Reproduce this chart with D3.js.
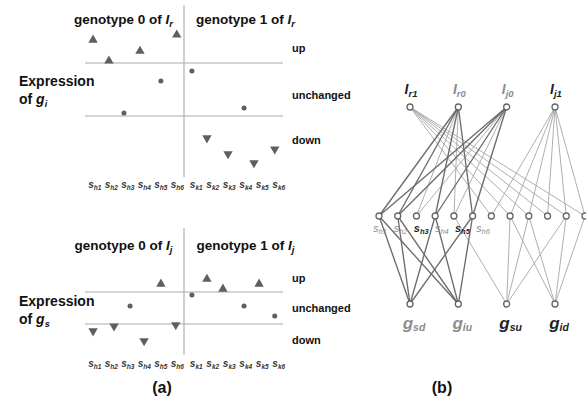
<!DOCTYPE html>
<html>
<head>
<meta charset="utf-8">
<script src="https://cdn.jsdelivr.net/npm/d3@7"></script>
<style>
  html, body { margin: 0; padding: 0; background: #fff; }
  svg { display: block; }
</style>
</head>
<body>
<script>
// ---- Panel (a): expression of a gene across samples, split by genotype ----
const samplesH = ["h1", "h2", "h3", "h4", "h5", "h6"];
const samplesK = ["k1", "k2", "k3", "k4", "k5", "k6"];
const levelLabels = ["up", "unchanged", "down"];

// g_i expression (threshold lines at +1 / -1) and sample positions along the axis
const giValues = [1.87, 1.08, -0.89, 1.45, 0.32, 2.06, 0.70, -1.83, -2.43, -0.70, -2.77, -2.25];
const giPos    = [0.99, 1.95, 2.86, 3.83, 5.10, 6.06, 6.98, 7.89, 9.17, 10.14, 10.74, 12.0];
// g_s expression
const gsValues = [-1.44, -1.13, 0.13, -2.06, 1.50, -1.06, 0.81, 1.81, 1.19, 0.13, 1.50, -0.50];
const gsPos    = [0.99, 2.26, 3.23, 4.08, 5.10, 6.00, 6.98, 7.89, 8.86, 10.14, 11.05, 12.0];

// ---- Panel (b): locus -> sample -> gene network ----
const lociNodes = [["I", "r1"], ["I", "r0"], ["I", "j0"], ["I", "j1"]];
const sampleNodes = samplesH.concat(samplesK);
const geneNodes = [["g", "sd"], ["g", "iu"], ["g", "su"], ["g", "id"]];
// locus genotype -> samples carrying it (indices into sampleNodes)
const lociLinks = [
  [6, 7, 8, 9, 10, 11],   // I_r1
  [0, 1, 2, 3, 4, 5],     // I_r0
  [0, 1, 2, 3, 4, 5],     // I_j0
  [6, 7, 8, 9, 10, 11]    // I_j1
];
// gene state -> samples showing it
const geneLinks = [
  [0, 1, 3, 5],   // g_s down
  [0, 1, 3, 5],   // g_i up
  [4, 7, 8, 10],  // g_s up
  [7, 8, 10, 11]  // g_i down
];
const moduleLoci = [1, 2];          // highlighted loci
const moduleSamples = [0, 1, 3, 5]; // highlighted samples
const moduleGenes = [0, 1];         // highlighted genes

const W = 586, H = 402;
const svg = d3.select("body").append("svg")
  .attr("width", W).attr("height", H)
  .style("font-family", "'Liberation Sans', Arial, Helvetica, sans-serif");
svg.append("rect").attr("width", W).attr("height", H).attr("fill", "#fff");

const lineGrey = "#a9a9a9";
const markGrey = "#5f5f5f";
const textDark = "#111";

const x = d3.scaleLinear().domain([0.5, 12.5]).range([85, 283]);

function drawPanel(cfg) {
  const g = svg.append("g");
  const y = d3.scaleLinear().domain([-1, 1]).range(cfg.yRange);

  // threshold lines and genotype divider
  g.selectAll("line.th").data([1, -1]).join("line")
    .attr("x1", x(0.5)).attr("x2", x(12.5))
    .attr("y1", d => y(d)).attr("y2", d => y(d))
    .attr("stroke", lineGrey).attr("stroke-width", 1.1);
  g.append("line")
    .attr("x1", x(6.5)).attr("x2", x(6.5))
    .attr("y1", cfg.vLine[0]).attr("y2", cfg.vLine[1])
    .attr("stroke", lineGrey).attr("stroke-width", 1.1);

  // genotype titles
  [0, 1].forEach(k => {
    const t = g.append("text")
      .attr("x", k === 0 ? x(3.5) - 11 : x(9.5) + 12)
      .attr("y", cfg.titleY)
      .attr("text-anchor", "middle")
      .attr("font-size", 13.5).attr("font-weight", "bold").attr("fill", textDark);
    t.append("tspan").text("genotype " + k + " of ");
    t.append("tspan").attr("font-style", "italic").text("I");
    t.append("tspan").attr("font-style", "italic").attr("font-size", 9.5).attr("dy", 3).text(cfg.locus);
  });

  // level labels
  g.selectAll("text.lvl").data(levelLabels).join("text")
    .attr("x", 292).attr("y", (d, i) => cfg.levelY[i])
    .attr("font-size", 11).attr("font-weight", "bold").attr("fill", textDark)
    .text(d => d);

  // "Expression of g"
  g.append("text").attr("x", 19).attr("y", cfg.exprY[0])
    .attr("font-size", 14).attr("font-weight", "bold").attr("fill", textDark)
    .text("Expression");
  const of = g.append("text").attr("x", 19).attr("y", cfg.exprY[1])
    .attr("font-size", 14).attr("font-weight", "bold").attr("fill", textDark);
  of.append("tspan").text("of ");
  of.append("tspan").attr("font-style", "italic").text("g");
  of.append("tspan").attr("font-style", "italic").attr("font-size", 9).attr("dy", 3).text(cfg.gene);

  // sample labels
  const labs = samplesH.map((s, i) => ({ s, xx: x(i + 1) + 1.5 }))
    .concat(samplesK.map((s, i) => ({ s, xx: x(i + 7) + 4 })));
  labs.forEach(l => {
    const t = g.append("text").attr("x", l.xx).attr("y", cfg.sampleY)
      .attr("text-anchor", "middle").attr("font-style", "italic")
      .attr("font-weight", "bold").attr("fill", "#333").attr("font-size", 10);
    t.append("tspan").text("s");
    t.append("tspan").attr("font-size", 6.5).attr("dy", 2).text(l.s);
  });

  // expression markers
  const tri = d3.symbol().type(d3.symbolTriangle).size(38);
  const dot = d3.symbol().type(d3.symbolCircle).size(20);
  g.selectAll("path.mk").data(cfg.values).join("path")
    .attr("d", d => (Math.abs(d) > 1 ? tri() : dot()))
    .attr("transform", (d, i) =>
      `translate(${x(cfg.pos[i])},${y(d)})` + (d < -1 ? " rotate(180)" : ""))
    .attr("fill", markGrey);
}

drawPanel({
  yRange: [116, 63], vLine: [5, 177], titleY: 24, levelY: [52, 99, 144],
  exprY: [86, 104], sampleY: 188, locus: "r", gene: "i",
  values: giValues, pos: giPos
});
drawPanel({
  yRange: [324, 292], vLine: [228, 355], titleY: 250, levelY: [282, 312, 344],
  exprY: [306, 324], sampleY: 367, locus: "j", gene: "s",
  values: gsValues, pos: gsPos
});

// ---- Panel (b) ----
const net = svg.append("g");
const yTop = 107, yMid = 216, yBot = 304;
const xTop = d3.scalePoint().domain(d3.range(lociNodes.length)).range([410, 555]);
const xMid = d3.scalePoint().domain(d3.range(sampleNodes.length)).range([379, 585]);
const xBot = d3.scalePoint().domain(d3.range(geneNodes.length)).range([410, 555]);

const darkEdge = { stroke: "#6c6c6c", width: 1.35 };
const lightEdge = { stroke: "#a6a6a6", width: 0.9 };

const edges = [];
lociLinks.forEach((targets, li) => targets.forEach(si => {
  const dark = moduleLoci.includes(li) && moduleSamples.includes(si);
  edges.push({ x1: xTop(li), y1: yTop, x2: xMid(si), y2: yMid, dark });
}));
geneLinks.forEach((targets, gi) => targets.forEach(si => {
  const dark = moduleGenes.includes(gi) && moduleSamples.includes(si);
  edges.push({ x1: xMid(si), y1: yMid, x2: xBot(gi), y2: yBot, dark });
}));
edges.sort((a, b) => a.dark - b.dark);
net.selectAll("line.edge").data(edges).join("line")
  .attr("x1", d => d.x1).attr("y1", d => d.y1)
  .attr("x2", d => d.x2).attr("y2", d => d.y2)
  .attr("stroke", d => (d.dark ? darkEdge : lightEdge).stroke)
  .attr("stroke-width", d => (d.dark ? darkEdge : lightEdge).width);

// nodes
const nodePts = lociNodes.map((d, i) => [xTop(i), yTop])
  .concat(sampleNodes.map((d, i) => [xMid(i), yMid]))
  .concat(geneNodes.map((d, i) => [xBot(i), yBot]));
net.selectAll("circle.node").data(nodePts).join("circle")
  .attr("cx", d => d[0]).attr("cy", d => d[1]).attr("r", 3)
  .attr("fill", "#fff").attr("stroke", "#666").attr("stroke-width", 1.3);

const greyLab = "#8c8c8c", darkLab = "#1e1e1e";
// locus labels
lociNodes.forEach((d, i) => {
  const t = net.append("text").attr("x", xTop(i) + 1).attr("y", yTop - 13)
    .attr("text-anchor", "middle").attr("font-style", "italic").attr("font-weight", "bold")
    .attr("fill", moduleLoci.includes(i) ? greyLab : darkLab).attr("font-size", 14);
  t.append("tspan").text(d[0]);
  t.append("tspan").attr("font-size", 9.5).attr("dy", 3).text(d[1]);
});
// sample labels (first genotype group)
samplesH.forEach((s, i) => {
  const t = net.append("text").attr("x", 380 + i * 20.6).attr("y", yMid + 16)
    .attr("text-anchor", "middle").attr("font-style", "italic")
    .attr("font-weight", moduleSamples.includes(i) ? "normal" : "bold")
    .attr("fill", moduleSamples.includes(i) ? greyLab : darkLab).attr("font-size", 11);
  t.append("tspan").text("s");
  t.append("tspan").attr("font-size", 7.5).attr("dy", 2).text(s);
});
// gene labels
geneNodes.forEach((d, i) => {
  const t = net.append("text").attr("x", xBot(i) + 4).attr("y", yBot + 25)
    .attr("text-anchor", "middle").attr("font-style", "italic").attr("font-weight", "bold")
    .attr("fill", moduleGenes.includes(i) ? greyLab : darkLab).attr("font-size", 17);
  t.append("tspan").text(d[0]);
  t.append("tspan").attr("font-size", 10.5).attr("dy", 2).text(d[1]);
});

// panel tags
[["(a)", 162], ["(b)", 442]].forEach(([s, px]) => {
  svg.append("text").attr("x", px).attr("y", 393).attr("text-anchor", "middle")
    .attr("font-size", 16).attr("font-weight", "bold").attr("fill", textDark).text(s);
});
</script>
</body>
</html>
